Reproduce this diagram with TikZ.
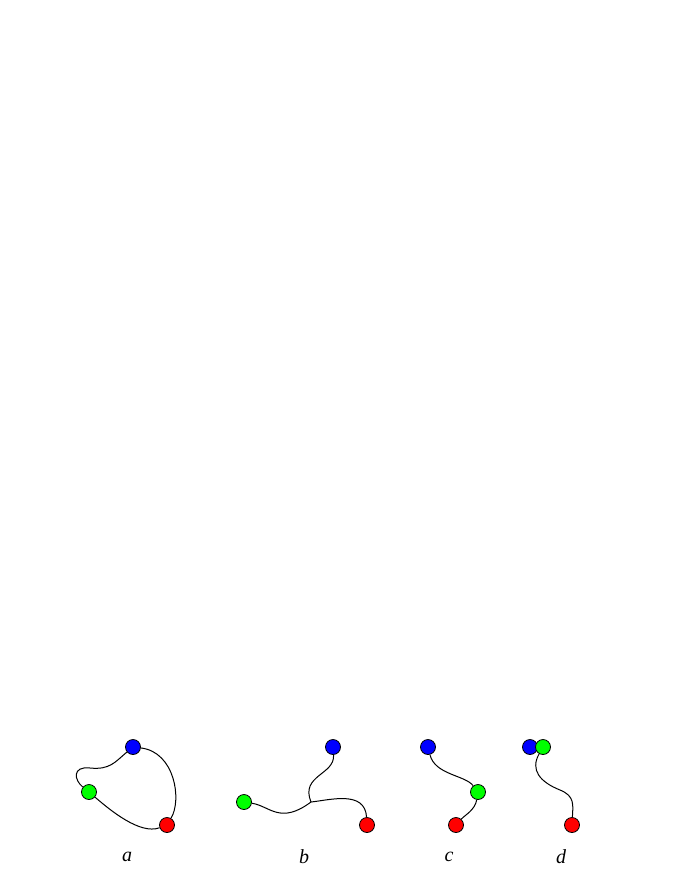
\documentclass[tikz,border=0pt]{standalone}
\usepackage{fontspec}
\setmainfont{Liberation Serif}
\begin{document}
\begin{tikzpicture}[x=1pt,y=-1pt,
  dot/.style={circle,draw,line width=.8pt,inner sep=0pt,minimum size=15pt},
  lab/.style={font=\fontsize{20}{24}\selectfont\itshape},
  every path/.style={line width=1pt}]
\useasboundingbox (0,0) rectangle (681,881);
% a
\node[dot,fill=blue] (ab) at (133,747) {};
\node[dot,fill=green] (ag) at (89,792) {};
\node[dot,fill=red] (ar) at (167,825) {};
\draw (ab) .. controls (115,762) and (110,770) .. (90,768) .. controls (72,766) and (74,780) .. (ag);
\draw (ag) .. controls (110,810) and (140,835) .. (ar);
\draw (ab) .. controls (175,752) and (182,800) .. (ar);
\node[lab] (al) at (127,857) {a};
% b
\node[dot,fill=blue] (bb) at (333,747) {};
\node[dot,fill=green] (bg) at (244,802) {};
\node[dot,fill=red] (br) at (367,825) {};
\coordinate (bj) at (311,802);
\draw (bb) .. controls (335,775) and (300,775) .. (bj);
\draw (bg) .. controls (270,806) and (280,825) .. (bj);
\draw (bj) .. controls (330,800) and (365,790) .. (br);
\node[lab] (bl) at (304,857) {b};
% c
\node[dot,fill=blue] (cb) at (428,747) {};
\node[dot,fill=green] (cg) at (478,792) {};
\node[dot,fill=red] (cr) at (456,825) {};
\draw (cb) .. controls (435,775) and (465,775) .. (cg);
\draw (cg) .. controls (475,810) and (465,815) .. (cr);
\node[lab] (cl) at (449,857) {c};
% d
\node[dot,fill=blue] (db) at (530,747) {};
\node[dot,fill=green] (dg) at (543,747) {};
\node[dot,fill=red] (dr) at (572,825) {};
\draw (dg) .. controls (530,770) and (540,782) .. (560,790) .. controls (575,796) and (573,805) .. (dr);
\node[lab] (dl) at (561,857) {d};
\end{tikzpicture}
\end{document}
